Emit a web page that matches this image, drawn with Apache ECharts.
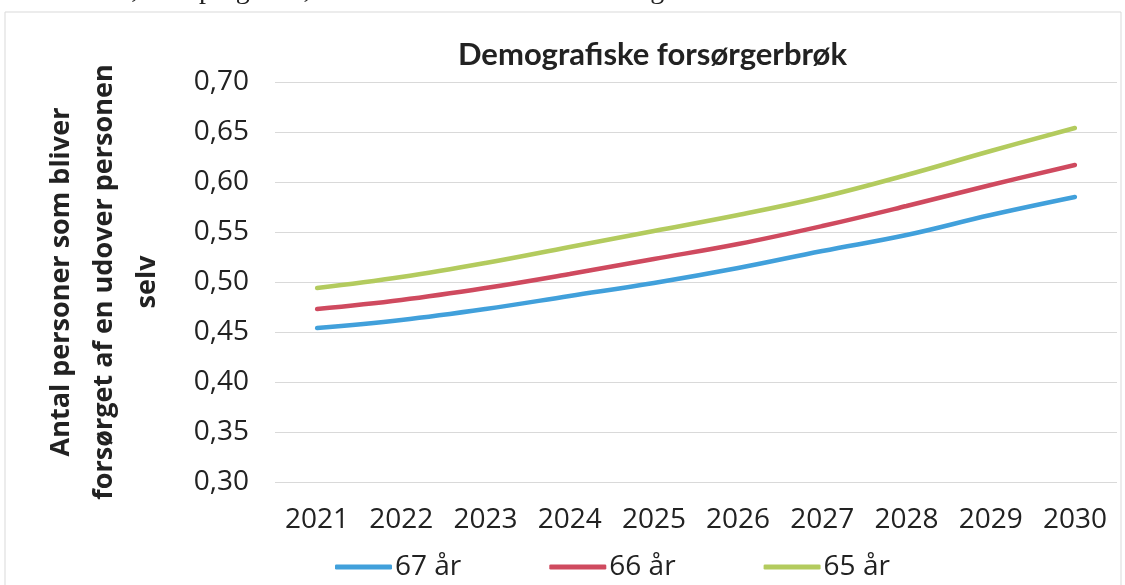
<!DOCTYPE html>
<html>
<head>
<meta charset="utf-8">
<script src="https://cdn.jsdelivr.net/npm/echarts@6/dist/echarts.min.js"></script>
<style>
  html, body { margin:0; padding:0; background:#fff; }
  #chart { width:1125px; height:585px; }
</style>
</head>
<body>
<div id="chart"></div>
<script>
// år på x-aksen
const years = ['2021','2022','2023','2024','2025','2026','2027','2028','2029','2030']
// forsørgerbrøk pr. pensionsalder
const age67 = [0.454, 0.462, 0.473, 0.486, 0.499, 0.514, 0.531, 0.547, 0.567, 0.585]
const age66 = [0.473, 0.482, 0.494, 0.508, 0.523, 0.538, 0.556, 0.576, 0.597, 0.617]
const age65 = [0.494, 0.505, 0.519, 0.535, 0.551, 0.567, 0.585, 0.607, 0.631, 0.654]
const seriesNames = ['67 år', '66 år', '65 år']

const txt = '#222'
const font = 'Open Sans'

const chart = echarts.init(document.getElementById('chart'))

function mkLine(name, data, color) {
  return {
    name, type:'line', data,
    smooth:0.4, symbol:'none',
    lineStyle:{ width:4.5, color, cap:'round' },
    itemStyle:{ color }
  }
}

chart.setOption({
  animation:false,
  backgroundColor:'#fff',
  textStyle:{ fontFamily:font, color:txt },
  title:{
    text:'Demografiske forsørgerbrøk',
    left:453, top:34,
    textStyle:{ fontFamily:'Lato', fontWeight:'bold', fontSize:31, color:txt }
  },
  graphic:[
    // afsnitstekst der er skåret af foroven
    { type:'text', left:-2, top:-23, silent:true,
      style:{ text:'de scenarier, der spørges til, er illustreret i nedenstående figur.',
              font:'28px "Liberation Serif"', fill:'#222' } },
    // diagramramme
    { type:'rect', shape:{ x:5, y:12, width:1116, height:600 }, silent:true, z:-1,
      style:{ fill:'none', stroke:'#d9d9d9', lineWidth:1 } }
  ],
  legend:{
    data:seriesNames,
    left:330, top:548,
    icon:'roundRect', itemWidth:57, itemHeight:5, itemGap:88,
    textStyle:{ fontFamily:font, fontSize:28, color:txt, padding:[0,0,0,-2] }
  },
  grid:{ left:275, right:8, top:82, bottom:103 },
  xAxis:{
    type:'category', data:years, boundaryGap:true,
    axisLine:{ show:false }, axisTick:{ show:false },
    axisLabel:{ fontFamily:font, fontSize:28, color:txt, margin:24 }
  },
  yAxis:{
    type:'value', min:0.30, max:0.70, interval:0.05,
    name:'Antal personer som bliver\nforsørget af en udover personen\nselv',
    nameLocation:'middle', nameRotate:90, nameGap:106,
    nameTextStyle:{ fontFamily:font, fontWeight:'bold', fontSize:27, color:txt, lineHeight:43, align:'center' },
    axisLine:{ show:false }, axisTick:{ show:false },
    splitLine:{ lineStyle:{ color:'#d9d9d9', width:1 } },
    axisLabel:{ fontFamily:font, fontSize:28, color:txt, margin:26,
      formatter: v => v.toFixed(2).replace('.', ',') }
  },
  series:[
    mkLine(seriesNames[0], age67, '#41a0db'),
    mkLine(seriesNames[1], age66, '#cf4a5f'),
    mkLine(seriesNames[2], age65, '#b3cb5e')
  ]
})
</script>
</body>
</html>
